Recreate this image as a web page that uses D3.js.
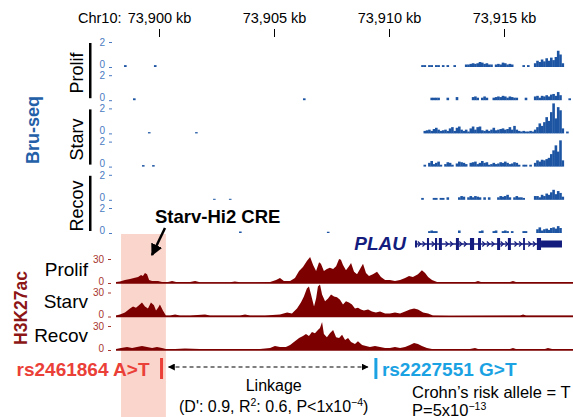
<!DOCTYPE html>
<html>
<head>
<meta charset="utf-8">
<script src="https://cdn.jsdelivr.net/npm/d3@7"></script>
<style>
body { margin: 0; background: #fff; }
svg { display: block; font-family: "Liberation Sans", Arial, sans-serif; }
</style>
</head>
<body>
<div id="chart"></div>
<script>
// chr10 window, positions below are kb offsets from 73,900 kb
const kbOrigin = 73900;
const axisTicks = [73900, 73905, 73910, 73915];
const conditions = ["Prolif", "Starv", "Recov"];

// Bru-seq signal, 0.1 kb bins from offset 11.0 kb, two rows per condition
const bruBinStart = 11.0, bruBinWidth = 0.1;
const bruProlifA = [0,0,0,0,0.15,0.15,0,0.15,0.15,0,0.15,0.15,0,0.15,0,0.15,0,0,0.15,0,
  0,0,0,0.2,0.2,0.25,0.3,0.25,0.3,0.4,0.35,0.25,0.3,0.2,0.2,0,
  0.2,0.25,0.2,0.35,0.3,0.2,0.25,0.2,0,0,0,0,
  0.15,0,0.15,0,0,
  0.3,0.5,0.4,0.6,0.45,0.7,0.5,0.75,0.55,0.8,1.3,1.0,0.3];
const bruProlifB = [0,0,0,0,0,0,0,0, 0.2,0.2,0.2,0.2,0, 0,0, 0.2, 0,0,0, 0.25, 0,0,0,0,0,0,
  0.25,0.3,0.2,0,0.2,0.3,0.2, 0,0,
  0.2,0.25,0.3,0.25,0.35,0.3,0.2,0.3,0.25,0.2,0.2,0, 0,0, 0.2,0, 0,0,
  0.3,0.35,0.2,0.35,0.3,0.4,0.3,0.45,0.5,0.35,0.65,0.4, 0,0,0, 0.15];
const bruStarvA = [0,0,0,0,0,
  0.2,0.25,0.3,0.2,0.35,0.45,0.3,0.2,0.25,0.3,0.2,0.4,0.5,0.2,0.45,0.55,0.3,0.2,0.3,
  0.15,
  0.4,0.55,0.3,0.5,0.55,0.25,0.2,0.3,0.2,0.3,0.45,0.25,0.3,0.35,0.4,0.3,0.35,0.5,0.3,0.6,0.3,0.2,
  0.15,0.2,0.15,0.15,0.2,0.15,
  0.3,0.5,0.8,0.6,0.9,1.3,1.0,1.7,2.4,1.2,2.1,1.85,0.4, 0,0.15];
const bruStarvB = [0,0,0,0,0,
  0.15,0,0.3,0.45,0.2,0.3,0.4,0.15,0,0.2,0.35,0.3,0.15, 0,
  0.25,0.4,0.35,0.3,0.2,0,0.3,0.35,0.4,0.2,0.3,0.45,0.3,0.35,0.15,
  0.2,0.3,0.2,0.25,0.35,0.3,0.4,0.3,0.2,0.25,0.35,0.3,0.15,
  0,0.15,0.15,0,0.15,0,
  0.3,0.5,0.4,0.55,0.5,0.6,0.7,1.0,1.3,1.7,1.2,2.1,0.5];
const bruRecovA = [0,0,0,0, 0.15, 0,0,0,0,
  0.15,0.15,0,0.15,0.15,0,0.2, 0,0,0,0,
  0.2,0.3,0.25,0,0.2,0.3,0.2,0.3,0.25,0.2,0,0.2,0,0.2, 0,0,0,
  0.2,0.3,0.25,0.3,0.4,0.2,0,0.2,0.3,0.2,0.2,0.15, 0,0,0,0,
  0.3,0.3,0.2,0.4,0.3,0.5,0.4,0.6,0.8,0.45,0.7,0.55,0.25];
const bruRecovB = [0,0,0,0,0,0,0, 0.15,0.2,0.15,0.15, 0,0,0,0,0,0,0,0,0, 0.2,
  0,0,0,0,0,0,0,0, 0.15,0.2,0, 0,0,0,
  0.15,0.2,0,0,0.15,0.2,0.15,0,0.15, 0,0,0,0, 0.15,0.15, 0,0,0,0,
  0.3,0.45,0.2,0.3,0.35,0.25,0.4,0.45,0.35,0.55,0.4];
// isolated Bru-seq reads further left: [offset kb, value] per row
const bruDots = [
  [[-1.52, 0.15], [-0.22, 0.15]],
  [[-1.13, 0.15], [6.26, 0.15]],
  [[-0.48, 0.1], [1.57, 0.1]],
  [[-0.74, 0.12], [-0.30, 0.12]],
  [[2.35, 0.08], [3.04, 0.08]],
  [[3.48, 0.12], [7.30, 0.1]]
];

// H3K27ac ChIP signal: [offset kb, value]
const acProlif = [[-1.87,1.2],[-1.70,1.9],[-1.48,3.8],[-1.26,5],[-1.09,6.2],[-0.91,7.5],[-0.78,10],[-0.70,8.8],
  [-0.61,12.5],[-0.52,11],[-0.43,3.8],[-0.30,2.5],[-0.04,2.5],[0.13,1.2],[0.39,1.2],[0.57,2.5],[0.74,1.2],
  [1.35,1.2],[1.57,2.5],[1.78,0.9],[3.09,0.9],[3.30,1.9],[3.52,0.9],[4.83,1.2],[5.09,3.8],[5.26,6.2],
  [5.43,2.5],[5.70,2.5],[5.91,6.2],[6.09,15],[6.26,20],[6.43,27.5],[6.57,32.5],[6.70,22.5],[6.83,15],
  [6.96,26],[7.04,24],[7.17,15],[7.30,17.5],[7.43,19],[7.57,17.5],[7.70,21],[7.83,30],[7.91,29],[8.00,22.5],
  [8.13,16],[8.26,21],[8.35,25],[8.48,14],[8.61,11],[8.74,17.5],[8.87,24],[9.00,12.5],[9.13,8.8],[9.30,11],
  [9.48,14],[9.65,7.5],[9.83,3.8],[10.04,3.8],[10.26,2.5],[10.48,3.8],[10.70,6.2],[10.87,8.8],[11.04,7.5],
  [11.26,11],[11.43,16],[11.57,12.5],[11.70,7.5],[11.87,3.8],[12.09,1.2],[12.65,1.2],[13.74,1.2],[13.87,2.5],
  [14.00,1.2],[15.26,1.2],[15.39,2.5],[15.52,1.2],[16.57,1.2],[17.00,1.2],[18.00,1.2]];
const acStarv = [[-1.87,1.2],[-1.70,2.5],[-1.48,5],[-1.26,10],[-1.13,12.5],[-1.00,11],[-0.87,14],[-0.74,17.5],
  [-0.61,12.5],[-0.48,10],[-0.35,17.5],[-0.22,14],[-0.13,7.5],[-0.04,11],[0.04,15],[0.17,7.5],[0.30,1.2],
  [0.48,1.2],[0.70,2.5],[0.91,1.2],[1.35,1.2],[2.00,2.5],[2.22,1.2],[3.52,1.2],[3.74,2.5],[3.96,1.2],
  [4.61,1.2],[5.26,2.5],[5.57,5],[5.78,3.8],[6.00,10],[6.17,17.5],[6.30,25],[6.43,35],[6.52,37.5],[6.61,27.5],
  [6.74,12.5],[6.83,22.5],[6.91,37.5],[7.00,40],[7.09,27.5],[7.22,19],[7.35,22.5],[7.48,27.5],[7.61,25],
  [7.74,24],[7.87,21],[8.00,15],[8.13,19],[8.26,17.5],[8.39,15],[8.52,10],[8.65,11],[8.78,8.8],[8.91,7.5],
  [9.09,8.8],[9.26,6.2],[9.43,5],[9.61,6.2],[9.83,3.8],[10.04,3.8],[10.26,5],[10.48,3.8],[10.70,6.2],
  [10.91,8.8],[11.09,10],[11.26,8.8],[11.48,5],[11.70,3.8],[11.91,1.2],[12.65,0.9],[15.70,1.2],[15.83,2.5],
  [15.96,1.2],[16.78,1.2],[17.43,1.2],[18.00,1.2]];
const acRecov = [[-1.87,1.2],[-1.65,2.5],[-1.39,3.8],[-1.17,2.5],[-0.96,3.8],[-0.74,5],[-0.52,3.8],[-0.30,2.5],
  [-0.09,3.8],[0.13,2.5],[0.30,1.2],[0.70,1.2],[1.13,1.9],[1.78,1.2],[3.52,1.2],[4.39,1.2],[4.83,2.5],
  [5.04,5],[5.26,3.8],[5.52,3.8],[5.70,6.2],[5.91,11],[6.09,15],[6.26,17.5],[6.39,20],[6.52,17.5],[6.65,22.5],
  [6.78,21],[6.91,25],[7.00,27.5],[7.09,35],[7.17,20],[7.30,16],[7.43,21],[7.57,25],[7.70,16],[7.83,15],
  [7.96,19],[8.09,12.5],[8.22,15],[8.35,10],[8.52,7.5],[8.65,11],[8.83,6.2],[9.00,5],[9.17,3.8],[9.39,5],
  [9.61,3.8],[9.83,2.5],[10.04,2.5],[10.26,3.8],[10.48,2.5],[10.70,3.8],[10.91,6.2],[11.09,8.8],[11.26,7.5],
  [11.43,5],[11.65,2.5],[11.87,1.2],[13.52,1.2],[13.74,2.5],[13.87,1.2],[15.26,1.2],[15.39,2.5],[15.52,1.2],
  [16.78,1.2],[16.91,2.5],[17.09,1.2],[18.00,1.2]];

// PLAU exons [start, end, coding]
const plauExons = [[11.13,11.22,false],[11.65,11.74,true],[12.00,12.09,true],[12.17,12.30,true],
  [12.91,13.04,true],[13.52,13.70,true],[13.87,14.00,true],[14.70,14.83,true],[15.17,15.30,true],
  [15.83,15.91,true],[16.43,16.61,true],[16.61,17.52,false]];

const creRegion = [-1.65, 0.30];
const snpNames = ["rs2461864 A>T", "rs2227551 G>T"];
const snpPos = [0.11, 9.43];

const width = 573, height = 417;
const bruColor = "#1d55a3", acColor = "#7d0000";

let svg = d3.select("#chart").append("svg")
    .attr("width", width)
    .attr("height", height);

let x = d3.scaleLinear().domain([73898, 73918]).range([113, 573]);
const kx = d => x(kbOrigin + d);

// CRE highlight
svg.append("rect")
    .attr("x", kx(creRegion[0]))
    .attr("y", 234)
    .attr("width", kx(creRegion[1]) - kx(creRegion[0]))
    .attr("height", height - 234)
    .attr("fill", "#fad5cb");

// top coordinate axis
svg.append("g")
    .attr("transform", "translate(0,37)")
    .call(d3.axisTop(x).tickValues(axisTicks).tickSize(8).tickPadding(6)
        .tickFormat(d => d3.format(",")(d) + " kb"))
    .call(g => g.select(".domain").remove())
    .attr("font-size", 14.5)
    .attr("font-family", null);
svg.append("text").attr("x", 78).attr("y", 23).attr("font-size", 14.5).text("Chr10:");

// Bru-seq
const bruRows = [bruProlifA, bruProlifB, bruStarvA, bruStarvB, bruRecovA, bruRecovB];
const binPx = kx(bruBinWidth) - kx(0);
bruRows.forEach((vals, t) => {
    let base = 67 + t * 33.2;
    let y = d3.scaleLinear().domain([0, 2]).range([base, base - 25]);
    let pts = vals.map((v, i) => [bruBinStart + i * bruBinWidth, v])
        .concat(bruDots[t])
        .filter(d => d[1] > 0);

    svg.append("g").selectAll("rect").data(pts).enter()
        .append("rect")
        .attr("x", d => kx(d[0]))
        .attr("y", d => y(d[1]))
        .attr("width", binPx + 0.3)
        .attr("height", d => base - y(d[1]))
        .attr("fill", bruColor);

    let ax = svg.append("g")
        .attr("transform", "translate(112,0)")
        .call(d3.axisLeft(y).tickValues([0, 2]).tickSize(3).tickPadding(4).tickFormat(d3.format("d")));
    ax.select(".domain").remove();
    ax.attr("font-size", 10).attr("font-family", null);
    ax.selectAll("line").attr("stroke", "#4a7bc2");
    ax.selectAll("text").attr("fill", "#4a7bc2");
    ax.selectAll(".tick").filter(d => d === 0).select("text").attr("y", -3);
});

conditions.forEach((c, k) => {
    let top = 67 + 2 * k * 33.2 - 25;
    let bottom = 67 + (2 * k + 1) * 33.2;
    svg.append("rect").attr("x", 89).attr("y", top + 1).attr("width", 2.5)
        .attr("height", bottom - top - 3).attr("fill", "#000");
    svg.append("text")
        .attr("transform", `translate(83,${(top + bottom) / 2 + 2}) rotate(-90)`)
        .style("text-anchor", "middle")
        .attr("font-size", 18)
        .text(c);
});
svg.append("text")
    .attr("transform", "translate(39,130) rotate(-90)")
    .style("text-anchor", "middle")
    .attr("font-size", 18).attr("font-weight", "bold").attr("fill", "#2360a8")
    .text("Bru-seq");

// PLAU gene model
const geneY = 244, geneColor = "#141c7e";
let gene = svg.append("g");
gene.append("line")
    .attr("x1", kx(plauExons[0][0])).attr("x2", kx(plauExons[plauExons.length - 1][1]))
    .attr("y1", geneY).attr("y2", geneY)
    .attr("stroke", geneColor).attr("stroke-width", 1.5);
for (let p = plauExons[0][1] + 0.1; p < plauExons[plauExons.length - 2][0]; p += 0.2) {
    if (plauExons.some(e => p > e[0] - 0.05 && p < e[1] + 0.05)) continue;
    gene.append("path")
        .attr("d", `M${kx(p) - 1.5},${geneY - 2.5}L${kx(p) + 1.2},${geneY}L${kx(p) - 1.5},${geneY + 2.5}`)
        .attr("fill", "none").attr("stroke", geneColor).attr("stroke-width", 1.2);
}
gene.selectAll("rect").data(plauExons).enter()
    .append("rect")
    .attr("x", d => kx(d[0]))
    .attr("width", d => kx(d[1]) - kx(d[0]))
    .attr("y", d => d[2] ? geneY - 6 : geneY - 3.5)
    .attr("height", d => d[2] ? 12 : 7)
    .attr("fill", geneColor);
svg.append("text")
    .attr("x", 406).attr("y", 250)
    .style("text-anchor", "end")
    .attr("font-size", 19).attr("font-weight", "bold").attr("font-style", "italic")
    .attr("fill", geneColor)
    .text("PLAU");

// H3K27ac
const acRows = [acProlif, acStarv, acRecov];
acRows.forEach((pts, k) => {
    let base = 283 + k * 33.5;
    let y = d3.scaleLinear().domain([0, 30]).range([base, base - 24]);
    let area = d3.area().x(d => kx(d[0])).y0(base).y1(d => y(d[1]));
    svg.append("path").datum(pts).attr("d", area).attr("fill", acColor);
    svg.append("line").attr("x1", 116).attr("x2", width).attr("y1", base).attr("y2", base)
        .attr("stroke", acColor).attr("stroke-width", 1.5);

    let ax = svg.append("g")
        .attr("transform", "translate(111,0)")
        .call(d3.axisLeft(y).tickValues([0, 30]).tickSize(3).tickPadding(4).tickFormat(d3.format("d")));
    ax.select(".domain").remove();
    ax.attr("font-size", 10).attr("font-family", null);
    ax.selectAll("line").attr("stroke", "#a8362e");
    ax.selectAll("text").attr("fill", "#a8362e");
    ax.selectAll(".tick").filter(d => d === 0).select("text").attr("y", -2);

    svg.append("text")
        .attr("x", 88).attr("y", [276, 308, 342][k])
        .style("text-anchor", "end")
        .attr("font-size", 19)
        .text(conditions[k]);
});
svg.append("text")
    .attr("transform", "translate(27,308) rotate(-90)")
    .style("text-anchor", "middle")
    .attr("font-size", 17.5).attr("font-weight", "bold").attr("fill", "#8c1515")
    .text("H3K27ac");

// markers
let defs = svg.append("defs");
defs.append("marker").attr("id", "bigHead").attr("viewBox", "0 0 10 10")
    .attr("refX", 9).attr("refY", 5).attr("markerWidth", 12).attr("markerHeight", 12)
    .attr("markerUnits", "userSpaceOnUse").attr("orient", "auto")
    .append("path").attr("d", "M0,0L10,5L0,10z").attr("fill", "#000");
defs.append("marker").attr("id", "smallHead").attr("viewBox", "0 0 10 10")
    .attr("refX", 9).attr("refY", 5).attr("markerWidth", 7).attr("markerHeight", 7)
    .attr("markerUnits", "userSpaceOnUse").attr("orient", "auto-start-reverse")
    .append("path").attr("d", "M0,0L10,5L0,10z").attr("fill", "#000");

// CRE label
svg.append("text").attr("x", 155).attr("y", 223)
    .attr("font-size", 18.5).attr("font-weight", "bold").text("Starv-Hi2 CRE");
svg.append("line").attr("x1", 165).attr("y1", 228).attr("x2", 152).attr("y2", 255)
    .attr("stroke", "#000").attr("stroke-width", 2.5).attr("marker-end", "url(#bigHead)");

// SNPs and linkage
const snpColors = ["#ea4038", "#1ba2e3"];
snpPos.forEach((p, k) => {
    svg.append("rect").attr("x", kx(p) - 1.5).attr("y", 358).attr("width", 3).attr("height", 21)
        .attr("fill", snpColors[k]);
    svg.append("text")
        .attr("x", k === 0 ? kx(p) - 12 : kx(p) + 6).attr("y", 376)
        .style("text-anchor", k === 0 ? "end" : "start")
        .attr("font-size", 19).attr("font-weight", "bold").attr("fill", snpColors[k])
        .text(snpNames[k]);
});
svg.append("line")
    .attr("x1", kx(snpPos[0]) + 7).attr("x2", kx(snpPos[1]) - 8)
    .attr("y1", 367).attr("y2", 367)
    .attr("stroke", "#000").attr("stroke-width", 1.2).attr("stroke-dasharray", "4,3")
    .attr("marker-start", "url(#smallHead)").attr("marker-end", "url(#smallHead)");

let mid = (kx(snpPos[0]) + kx(snpPos[1])) / 2 + 5;
svg.append("text").attr("x", mid).attr("y", 391).style("text-anchor", "middle")
    .attr("font-size", 16).text("Linkage");
let stats = svg.append("text").attr("x", mid).attr("y", 412).style("text-anchor", "middle")
    .attr("font-size", 16);
stats.append("tspan").text("(D': 0.9, R");
stats.append("tspan").attr("dy", -6).attr("font-size", 10.5).text("2");
stats.append("tspan").attr("dy", 6).text(": 0.6, P<1x10");
stats.append("tspan").attr("dy", -6).attr("font-size", 10.5).text("\u22124");
stats.append("tspan").attr("dy", 6).text(")");

svg.append("text").attr("x", 412).attr("y", 398).attr("font-size", 16.5)
    .text("Crohn\u2019s risk allele = T");
let pv = svg.append("text").attr("x", 412).attr("y", 416).attr("font-size", 16.5);
pv.append("tspan").text("P=5x10");
pv.append("tspan").attr("dy", -6).attr("font-size", 10.5).text("\u221213");
</script>
</body>
</html>
